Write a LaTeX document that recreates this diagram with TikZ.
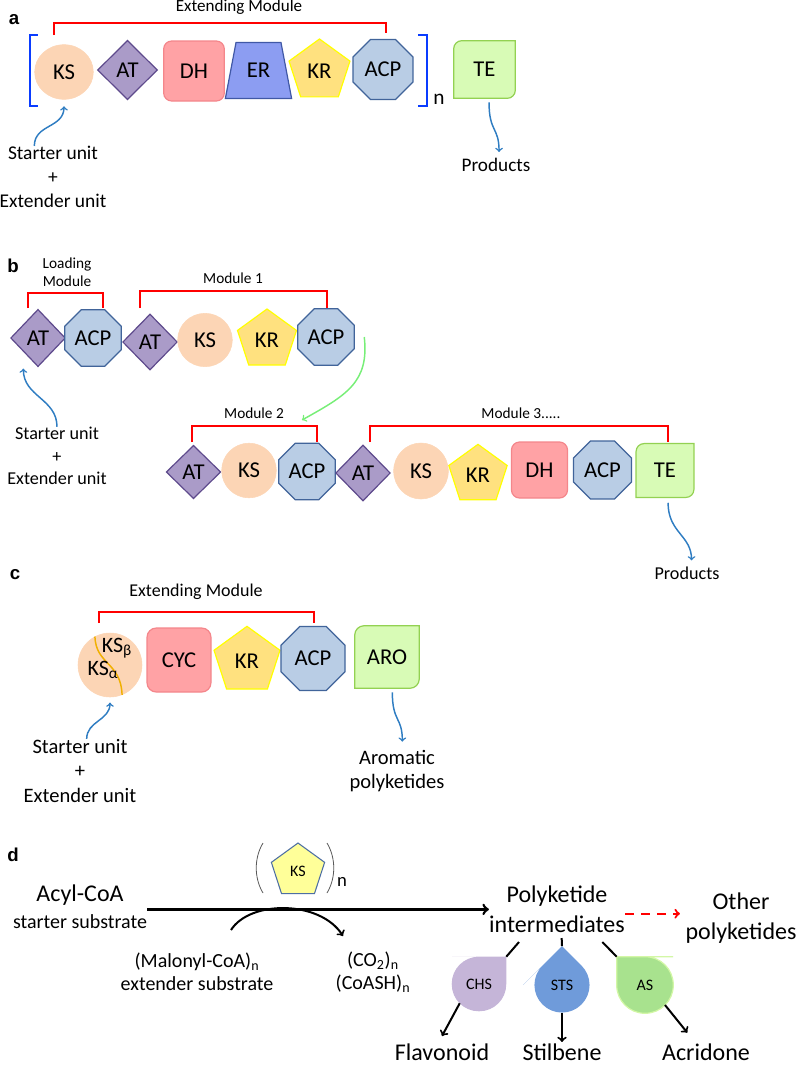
\documentclass[tikz,border=0pt]{standalone}
\usepackage{fontspec}
\setmainfont{Carlito}
\newfontfamily\labelfont{Liberation Sans}
\usepackage{tikz}
\usetikzlibrary{shapes.geometric,backgrounds}
\usepackage{xcolor}

\definecolor{ksfill}{HTML}{FCD5B5}
\definecolor{atfill}{HTML}{AA9BC8}
\definecolor{atline}{HTML}{5E4A8C}
\definecolor{dhfill}{HTML}{FFA2A5}
\definecolor{dhline}{HTML}{F4868B}
\definecolor{erfill}{HTML}{8C9DF2}
\definecolor{erline}{HTML}{4058A6}
\definecolor{krfill}{HTML}{FFE17F}
\definecolor{krline}{HTML}{FFFF00}
\definecolor{acpfill}{HTML}{B9CDE5}
\definecolor{acpline}{HTML}{41649A}
\definecolor{tefill}{HTML}{D8FBB6}
\definecolor{teline}{HTML}{93D152}
\definecolor{bracketblue}{HTML}{0A3CFF}
\definecolor{feedblue}{HTML}{2F7DC2}
\definecolor{passgreen}{HTML}{77EE77}
\definecolor{ksline}{HTML}{F0B000}
\definecolor{ksdfill}{HTML}{FFFF99}
\definecolor{ksdline}{HTML}{4E6FA3}
\definecolor{chsfill}{HTML}{C5B5D8}
\definecolor{stsfill}{HTML}{6F9BDA}
\definecolor{asfill}{HTML}{A8E28E}
\definecolor{asline}{HTML}{D3F7A6}

\tikzset{
  dom/.style={font=\fontsize{17}{20}\selectfont, inner sep=0pt},
  ksdom/.style={dom, ellipse, fill=ksfill, draw=ksfill},
  atdom/.style={dom, diamond, fill=atfill, draw=atline, line width=0.9pt},
  dhdom/.style={dom, rectangle, rounded corners=6pt, fill=dhfill, draw=dhline, line width=0.9pt},
  krdom/.style={dom, regular polygon, regular polygon sides=5, fill=krfill, draw=krline, line width=0.9pt},
  acpdom/.style={dom, regular polygon, regular polygon sides=8, fill=acpfill, draw=acpline, line width=0.9pt},
  tedom/.style={dom, rectangle},
  tebox/.style={fill=tefill, draw=teline, line width=0.9pt},
  modtext/.style={font=\fontsize{11.5}{13.5}\selectfont, inner sep=0pt, align=center},
  modbracket/.style={red, line width=1.4pt},
  bluebracket/.style={bracketblue, line width=2.2pt},
  unittext/.style={font=\fontsize{13.6}{17}\selectfont, inner sep=0pt, align=center},
  feed/.style={->, feedblue, line width=1.1pt},
  panel/.style={font=\labelfont\bfseries\fontsize{14}{16}\selectfont, inner sep=0pt},
  bigtext/.style={font=\fontsize{18}{22.5}\selectfont, inner sep=0pt, align=center},
  smalltext/.style={font=\fontsize{15}{17}\selectfont, inner sep=0pt, align=center},
  drop/.style={circle, inner sep=0pt, font=\fontsize{12}{14}\selectfont},
  blkarrow/.style={->, line width=1.5pt},
}

\begin{document}
\begin{tikzpicture}[x=0.75pt, y=-0.75pt]
    \useasboundingbox (0,0) rectangle (797,1065);

    % Panel a: repeated extending module
    \node[panel] (pa) at (14,20) {a};
    \node[modtext, font=\fontsize{12.8}{15}\selectfont] (ema) at (239,7) {Extending Module};
    \draw[modbracket] (54,35) |- (386,23) -- (386,33);
    \draw[bluebracket] (37.5,35) -- (30,35) -- (30,106) -- (37.5,106);
    \draw[bluebracket] (418,35) -- (427,35) -- (427,106) -- (418,106);
    \node[font=\fontsize{16}{18}\selectfont, inner sep=0pt] (na) at (439,99) {n};

    \node[ksdom, minimum width=44pt, minimum height=41pt] (ksa) at (64,72) {KS};
    \node[atdom, minimum width=45pt, minimum height=44.5pt] (ata) at (127.5,70) {AT};
    \node[dhdom, minimum width=45.5pt, minimum height=45pt] (dha) at (194,71) {DH};
    \node[tedom, minimum width=49.3pt, minimum height=41.7pt] (era) at (258.5,70.5) {ER};
    \node[krdom, minimum size=48pt] (kra) at (319.5,71) {KR};
    \node[acpdom, minimum size=48.7pt] (acpa) at (383,69.5) {ACP};
    \node[tedom, minimum width=45.8pt, minimum height=42.8pt] (tea) at (484.5,69.5) {TE};

    % Starter unit into KS, products out of TE
    \node[unittext, font=\fontsize{14.6}{18}\selectfont] (sua) at (53,177) {Starter unit\\+\\Extender unit};
    \draw[feed] ([xshift=-14pt]sua.north) .. controls +(0,-22) and +(0,22) .. ([yshift=-5pt]ksa.south);
    \node[unittext, font=\fontsize{14.4}{17}\selectfont] (proda) at (496,165) {Products};
    \draw[feed] ([xshift=3.4pt,yshift=-3pt]tea.south) .. controls +(0,30) and +(0,-25) .. ([xshift=2.3pt,yshift=4.5pt]proda.north);

    % Panel b: loading module and module 1
    \node[panel] (pb) at (13,266) {b};
    \node[modtext] (lml) at (67,272) {Loading\\Module};
    \draw[modbracket] (28,308) |- (103,293) -- (103,308);
    \node[modtext] (m1l) at (233,278) {Module 1};
    \draw[modbracket] (140,308) |- (327,291) -- (327,308);

    \node[atdom, minimum width=41pt, minimum height=43pt] (atl) at (38,338) {AT};
    \node[acpdom, minimum size=46pt] (acpl) at (93,338) {ACP};
    \node[atdom, minimum width=41pt, minimum height=42pt] (atb1) at (150,342) {AT};
    \node[ksdom, minimum width=41pt, minimum height=40pt] (ksb1) at (205,340) {KS};
    \node[krdom, minimum size=46.5pt] (krb1) at (267,340) {KR};
    \node[acpdom, minimum size=46pt] (acpb1) at (326,337) {ACP};

    \node[unittext] (sub) at (57,456) {Starter unit\\+\\Extender unit};
    \draw[feed] (sub.north) .. controls +(0,-28) and +(0,28) .. ([xshift=-11pt,yshift=-1pt]atl.south);

    % Passing on to module 2
    \coordinate (m2in) at (302,420);
    \draw[->, passgreen, line width=1.1pt] ([xshift=7pt]acpb1.east) .. controls +(5,45) and +(45,-25) .. (m2in);

    % Modules 2 and 3
    \node[modtext] (m2l) at (254,413) {Module 2};
    \draw[modbracket] (192,442) |- (317,426) -- (317,442);
    \node[modtext] (m3l) at (521,413) {Module 3.....};
    \draw[modbracket] (370,442) |- (668,426) -- (668,442);

    \node[atdom, minimum width=41pt, minimum height=40pt] (atb2) at (193.5,472) {AT};
    \node[ksdom, minimum width=41pt, minimum height=41pt] (ksb2) at (249,470.5) {KS};
    \node[acpdom, minimum size=46pt] (acpb2) at (307,471.5) {ACP};
    \node[atdom, minimum width=41pt, minimum height=42pt] (atb3) at (363,473) {AT};
    \node[ksdom, minimum width=41pt, minimum height=42pt] (ksb3) at (421,471) {KS};
    \node[krdom, minimum size=46pt] (krb3) at (478,475) {KR};
    \node[dhdom, minimum width=42pt, minimum height=42pt] (dhb3) at (539.5,470) {DH};
    \node[acpdom, minimum size=47pt] (acpb3) at (602.5,470) {ACP};
    \node[tedom, minimum width=43pt, minimum height=40pt] (teb3) at (665,470.5) {TE};

    \node[unittext] (prodb) at (687,573) {Products};
    \draw[feed] ([xshift=2.3pt,yshift=-4pt]teb3.south) .. controls +(0,30) and +(0,-25) .. ([xshift=3.4pt,yshift=4.5pt]prodb.north);

    % Panel c: type II extending module
    \node[panel] (pc) at (15,575) {c};
    \node[modtext, font=\fontsize{13.5}{15}\selectfont] (emc) at (196,592) {Extending Module};
    \draw[modbracket] (99,623) |- (314,612) -- (314,623);

    \node[ksdom, minimum size=48pt] (ksc) at (110,665) {};
    \draw[ksline, line width=1.1pt] (ksc.118) .. controls (96,665) and (121,662) .. (ksc.-68);
    \node[dom, font=\fontsize{16.5}{19}\selectfont] (ksbeta) at (117,648) {KS\textsubscript{β}};
    \node[dom, font=\fontsize{16.5}{19}\selectfont] (ksalpha) at (103,670) {KS\textsubscript{α}};
    \node[dhdom, minimum width=48pt, minimum height=48pt, rounded corners=7pt] (cycc) at (179,660) {CYC};
    \node[krdom, minimum size=52pt] (krc) at (247,661) {KR};
    \node[acpdom, minimum size=52pt] (acpc) at (313,658.5) {ACP};
    \node[tedom, minimum width=48pt, minimum height=46.5pt] (aroc) at (387,657) {ARO};

    \node[unittext, font=\fontsize{15.4}{18.5}\selectfont] (suc) at (80,771) {Starter unit\\+\\Extender unit};
    \draw[feed] ([xshift=5pt]suc.north) .. controls +(0,-18) and +(0,18) .. ([yshift=-4pt]ksc.south);
    \node[unittext, font=\fontsize{15.4}{18.5}\selectfont] (aroprod) at (397,771) {Aromatic\\polyketides};
    \draw[feed] ([xshift=4pt,yshift=-3pt]aroc.south) .. controls +(0,30) and +(0,-25) .. ([xshift=4pt,yshift=6pt]aroprod.north);

    % Panel d: type III route
    \node[panel] (pd) at (13,855) {d};
    \node[font=\fontsize{18}{22}\selectfont, inner sep=0pt] (acyl) at (80,895) {Acyl-CoA};
    \node[font=\fontsize{15}{18}\selectfont, inner sep=0pt] (acyls) at (80,922) {starter substrate};

    \node[regular polygon, regular polygon sides=5, minimum size=42pt, inner sep=0pt, fill=ksdfill, draw=ksdline, line width=0.8pt, font=\fontsize{12}{14}\selectfont] (ksd) at (298,871) {KS};
    \draw[gray!70!black, line width=0.6pt] (263,843) .. controls (254,858) and (254,878) .. (263,893);
    \draw[gray!70!black, line width=0.6pt] (327,843) .. controls (336,858) and (336,878) .. (327,893);
    \node[font=\fontsize{14}{16}\selectfont, inner sep=0pt] (nd) at (342,882) {n};

    \node[bigtext] (pki) at (557,909) {Polyketide\\intermediates};
    \coordinate (acylout) at ([yshift=4pt]acyls.north east);
    \draw[->, line width=2pt] (acylout) -- (acylout -| pki.west);

    \node[smalltext] (malonyl) at (197,972) {(Malonyl-CoA)\textsubscript{n}\\extender substrate};
    \node[smalltext] (co2) at (373,972) {(CO\textsubscript{2})\textsubscript{n}\\(CoASH)\textsubscript{n}};
    \coordinate (malin) at (231,930);
    \coordinate (co2in) at (343,936);
    \draw[blkarrow] (malin) .. controls (250,900) and (320,900) .. (co2in);

    \node[bigtext] (other) at (741,918) {Other\\polyketides};
    \coordinate (pkiout) at ([yshift=-3.5pt]pki.east);
    \draw[->, red, line width=1.6pt, dash pattern=on 7pt off 5pt, shorten >=4pt] (pkiout) -- (pkiout -| other.west);

    % Enzymes as drops
    \node[drop, minimum size=40.5pt] (chs) at (479,984) {CHS};
    \node[drop, minimum size=41.25pt] (sts) at (562,985) {STS};
    \node[drop, minimum size=42pt] (asd) at (645,985) {AS};
    \begin{scope}[on background layer]
        \fill[chsfill] (chs.north) -- (chs.north -| chs.east) [rounded corners=20.25pt] -- (chs.south -| chs.east) -- (chs.south -| chs.west) -- (chs.north -| chs.west) -- cycle;
        \fill[stsfill] ([xshift=-14.6pt,yshift=14.6pt]sts.center) -- ([yshift=29.2pt]sts.center) [rounded corners=20.6pt] -- ([xshift=29.2pt]sts.center) -- ([yshift=-29.2pt]sts.center) -- ([xshift=-29.2pt]sts.center) -- cycle;
        \filldraw[fill=asfill, draw=asline, line width=0.9pt] (asd.north) -- (asd.north -| asd.west) [rounded corners=21pt] -- (asd.south -| asd.west) -- (asd.south -| asd.east) -- (asd.north -| asd.east) -- cycle;
        % ER, TE and ARO outlines
        \draw[fill=erfill, draw=erline, line width=0.9pt] (era.south west) -- (era.south east) -- ([xshift=-8pt]era.north east) -- ([xshift=8pt]era.north west) -- cycle;
        \draw[tebox] (tea.north) -- (tea.north east) [rounded corners=6pt] -- (tea.south east) [sharp corners] -- (tea.south west) [rounded corners=6pt] -- (tea.north west) -- cycle;
        \draw[tebox] (teb3.north) -- (teb3.north east) [rounded corners=6pt] -- (teb3.south east) [sharp corners] -- (teb3.south west) [rounded corners=6pt] -- (teb3.north west) -- cycle;
        \draw[tebox] (aroc.north) -- (aroc.north east) [rounded corners=7pt] -- (aroc.south east) [sharp corners] -- (aroc.south west) [rounded corners=7pt] -- (aroc.north west) -- cycle;
    \end{scope}

    \draw[line width=1.5pt] (chs.north -| chs.east) -- ([xshift=-28.5pt,yshift=-7pt]pki.south);
    \draw[line width=1.5pt] ([yshift=29.2pt]sts.center) -- ([xshift=3.5pt,yshift=-4pt]pki.south);
    \draw[line width=1.5pt] (asd.north -| asd.west) -- ([xshift=34pt,yshift=-7pt]pki.south);

    \node[bigtext] (flav) at (442,1052) {Flavonoid};
    \node[bigtext] (stil) at (562,1052) {Stilbene};
    \node[bigtext] (acr) at (706,1052) {Acridone};
    \draw[blkarrow] (chs.south west) -- ([yshift=5.5pt]flav.north);
    \draw[blkarrow] (sts.south) -- ([yshift=1pt]stil.north);
    \draw[blkarrow] (asd.south east) -- ([xshift=-14pt,yshift=8pt]acr.north);
\end{tikzpicture}
\end{document}
